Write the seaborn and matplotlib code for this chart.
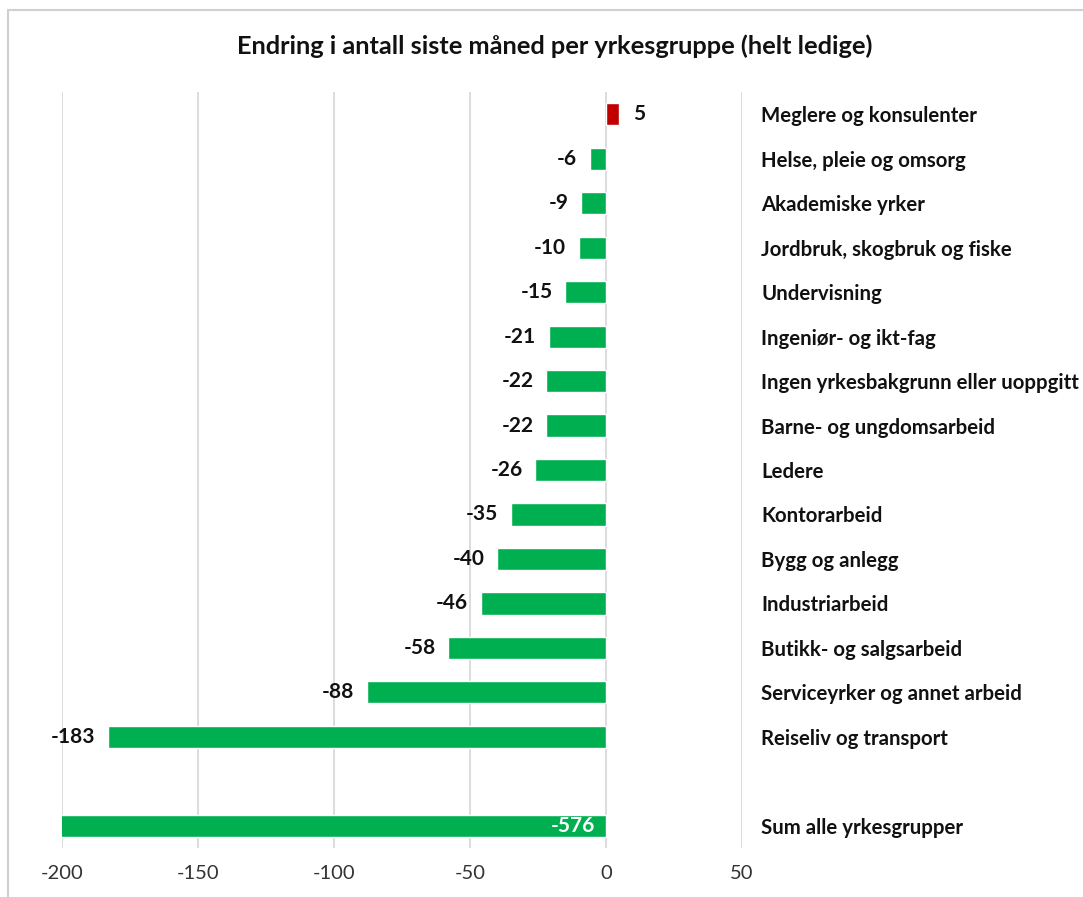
import pandas as pd
import matplotlib.pyplot as plt
import seaborn as sns
from matplotlib.patches import Rectangle

# Data
categories = ["Meglere og konsulenter", "Helse, pleie og omsorg", "Akademiske yrker",
              "Jordbruk, skogbruk og fiske", "Undervisning", "Ingeniør- og ikt-fag",
              "Ingen yrkesbakgrunn eller uoppgitt", "Barne- og ungdomsarbeid", "Ledere",
              "Kontorarbeid", "Bygg og anlegg", "Industriarbeid", "Butikk- og salgsarbeid",
              "Serviceyrker og annet arbeid", "Reiseliv og transport", "Sum alle yrkesgrupper"]
values = [5, -6, -9, -10, -15, -21, -22, -22, -26, -35, -40, -46, -58, -88, -183, -576]
order = categories[:-1] + [" "] + categories[-1:]
x_ticks = [-200, -150, -100, -50, 0, 50]

df = pd.DataFrame({"kategori": categories, "endring": values})
df["retning"] = ["opp" if v > 0 else "ned" for v in values]

sns.set_style("white")
plt.rcParams['font.family'] = ['Lato', 'DejaVu Sans']

fig = plt.figure(figsize=(10.83, 8.97), dpi=100)
ax = fig.add_axes([0.0572, 0.0546, 0.6278, 0.8428])

sns.barplot(data=df, y="kategori", x="endring", hue="retning", order=order,
            palette={"opp": "#c00000", "ned": "#00b050"}, width=0.5, saturation=1,
            dodge=False, legend=False, ax=ax)

ax.set_xlim(-200, 50)
ax.set_xticks(x_ticks)
ax.set_xticklabels([str(t) for t in x_ticks], fontsize=14.5, color="#333333")
ax.grid(axis="x", color="#d9d9d9", linewidth=1.3)
ax.set_axisbelow(True)
for s in ax.spines.values():
    s.set_visible(False)
ax.tick_params(axis="x", length=0, pad=12)
ax.set_xlabel("")
ax.set_ylabel("")

# category labels on the right
ax.yaxis.tick_right()
ax.tick_params(axis="y", length=0, pad=14)
ax.set_yticks(range(len(order)))
ax.set_yticklabels(order, fontsize=14.7, fontweight="bold", color="#111111")
for lbl in ax.get_yticklabels():
    lbl.set_horizontalalignment("left")

# value labels
xmin = ax.get_xlim()[0]
for i, cat in enumerate(order):
    if cat not in categories:
        continue
    v = values[categories.index(cat)]
    if v < xmin:
        ax.annotate(str(v), (0, i), xytext=(-8, 0), textcoords="offset points",
                    ha="right", va="center", fontsize=15, fontweight="bold", color="white")
    elif v > 0:
        ax.annotate(str(v), (v, i), xytext=(10, 0), textcoords="offset points",
                    ha="left", va="center", fontsize=15, fontweight="bold", color="#111111")
    else:
        ax.annotate(str(v), (v, i), xytext=(-9, 0), textcoords="offset points",
                    ha="right", va="center", fontsize=15, fontweight="bold", color="#111111")

fig.text(0.512, 0.948, "Endring i antall siste måned per yrkesgruppe (helt ledige)",
         ha="center", va="center", fontsize=18.3, fontweight="bold", color="#111111")

# light frame around chart area
fig.patches.append(Rectangle((0.007, -0.1), 1.2, 1.089, transform=fig.transFigure,
                             fill=False, edgecolor="#d0d0d0", linewidth=1.5))

plt.savefig("out.png", dpi=100)
